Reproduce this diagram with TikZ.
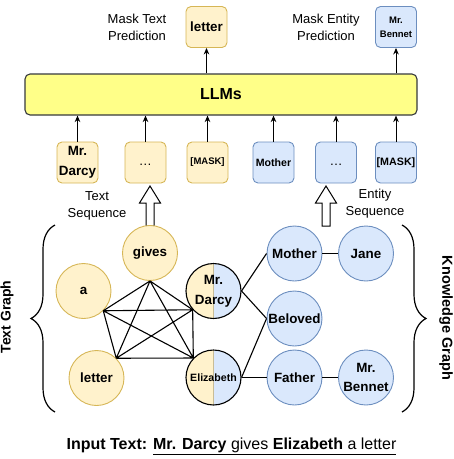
\documentclass[tikz,border=0pt]{standalone}
\usepackage{fontspec}
\setmainfont{Liberation Sans}
\usetikzlibrary{arrows.meta,decorations.pathreplacing}
\definecolor{yfill}{HTML}{FFF2CC}
\definecolor{ydraw}{HTML}{D6B656}
\definecolor{bfill}{HTML}{DAE8FC}
\definecolor{bdraw}{HTML}{6C8EBF}
\definecolor{llmfill}{HTML}{FFFF88}
\definecolor{llmdraw}{HTML}{36393D}
\definecolor{divcol}{HTML}{C8BC96}
\newcommand\myfs[2]{\fontsize{#1}{#2}\selectfont}
\newcommand\blockarr[2]{%
  \draw[line width=1pt, fill=white] (#1-4,#2) -- (#1-4,203) -- (#1-10.5,203) -- (#1,186) -- (#1+10.5,203) -- (#1+4,203) -- (#1+4,#2) -- cycle;}
\begin{document}
\begin{tikzpicture}[x=1pt,y=-1pt,
  ybox/.style={rectangle, rounded corners=5pt, fill=yfill, draw=ydraw, line width=0.9pt, minimum width=41pt, minimum height=41pt, inner sep=0pt, align=center},
  bbox/.style={ybox, fill=bfill, draw=bdraw},
  llmbox/.style={rectangle, rounded corners=5pt, fill=llmfill, draw=llmdraw, line width=1.1pt, minimum width=392pt, minimum height=41pt, inner sep=0pt},
  lab/.style={align=center, inner sep=0pt, font={\myfs{13}{17}}},
  ycirc/.style={circle, fill=yfill, draw=ydraw, line width=0.9pt, minimum size=55pt, inner sep=0pt, align=center, font={\myfs{13.4}{19}\bfseries}},
  bcirc/.style={ycirc, fill=bfill, draw=bdraw},
  halfcirc/.style={circle, draw=black, line width=1.1pt, minimum size=55pt, inner sep=0pt, align=center, font={\myfs{13.4}{20}\bfseries},
    path picture={
      \fill[yfill] (path picture bounding box.south west) rectangle (path picture bounding box.north);
      \fill[bfill] (path picture bounding box.south) rectangle (path picture bounding box.north east);
      \draw[divcol, line width=1.2pt] (path picture bounding box.south) -- (path picture bounding box.north);
    }},
  arr/.style={line width=1pt, -{Stealth[length=6.5pt,width=5.5pt]}},
  edge/.style={line width=1.1pt, black},
  bracestyle/.style={line width=1.2pt, decorate, decoration={brace, amplitude=24pt}},
]
\useasboundingbox (0,0) rectangle (454,459);

% LLM
\node[llmbox, font={\myfs{16}{19}\bfseries}] (llm) at (221,94.5) {LLMs};

% top outputs
\node[ybox, font={\myfs{13.4}{16}\bfseries}] (t1) at (206.5,27) {letter};
\node[bbox, font={\myfs{9.5}{14}\bfseries}] (t2) at (396,27) {Mr.\\Bennet};
\node[lab] (l1) at (137,27.5) {Mask Text\\Prediction};
\node[lab] (l2) at (326,27.5) {Mask Entity\\Prediction};
\draw[arr] (llm.north -| t1.south) -- (t1.south);
\draw[arr] (llm.north -| t2.south) -- (t2.south);

% sequences
\node[ybox, font={\myfs{13.4}{20}\bfseries}] (s1) at (77.5,162.5) {Mr.\\Darcy};
\node[ybox, font={\myfs{13}{16}}] (s2) at (145.5,162.5) {\vphantom{Ag}…};
\node[ybox, font={\myfs{9.5}{12}\bfseries}] (s3) at (207.5,162.5) {[MASK]};
\node[bbox, font={\myfs{10.6}{12}\bfseries}] (k1) at (273.5,162.5) {Mother};
\node[bbox, font={\myfs{13}{16}}] (k2) at (336,162.5) {\vphantom{Ag}…};
\node[bbox, font={\myfs{10.7}{12}\bfseries}] (k3) at (396,162.5) {[MASK]};
\foreach \n in {s1,s2,s3,k1,k2,k3}{
  \draw[arr] (\n.north) -- (\n.north |- llm.south);
}
\node[lab] (tsl) at (97,205.5) {Text\\Sequence};
\node[lab] (esl) at (375,203.5) {Entity\\Sequence};

% block arrows
\blockarr{150}{226}
\blockarr{326}{226}

% text graph
\node[ycirc] (gives) at (150,253) {gives};
\node[ycirc] (a) at (83.5,291) {a};
\node[ycirc] (letter) at (96.5,378) {letter};
\node[halfcirc] (darcy) at (213.5,291) {Mr.\\Darcy};
\node[halfcirc, font={\myfs{10.6}{12}\bfseries}] (eliz) at (213.5,377.5) {Elizabeth};

% knowledge graph
\node[bcirc] (mother) at (294.5,253.5) {Mother};
\node[bcirc] (jane) at (366,253.5) {Jane};
\node[bcirc] (beloved) at (294.5,318.5) {Beloved};
\node[bcirc] (father) at (294.5,377.5) {Father};
\node[bcirc] (bennet) at (366,377.5) {Mr.\\Bennet};

% text graph edges (complete graph)
\coordinate (pg) at (gives.south);
\coordinate (pa) at (a.-45);
\coordinate (pl) at (letter.45);
\coordinate (pd) at (darcy.222);
\coordinate (pe) at (eliz.136);
\draw[edge] (pg) -- (pa) (pg) -- (pl) (pg) -- (pd) (pg) -- (pe)
  (pa) -- (pl) (pa) -- (pd) (pa) -- (pe)
  (pl) -- (pd) (pl) -- (pe) (pd) -- (pe);

% knowledge edges
\draw[edge] (darcy.east) -- (mother.west);
\draw[edge] (darcy.east) -- (beloved.west);
\draw[edge] (eliz.east) -- (beloved.west);
\draw[edge] (eliz.east) -- (father.west);
\draw[edge] (mother) -- (jane);
\draw[edge] (father) -- (bennet);

% braces
\draw[bracestyle] (55,412) -- (55,225);
\draw[bracestyle] (402,225) -- (402,412);
\node[rotate=90, font={\myfs{14}{16}\bfseries}] (tg) at (7,317) {Text Graph};
\node[rotate=-90, font={\myfs{14.5}{16}\bfseries}] (kg) at (446,318) {Knowledge Graph};

% input text
\node[inner sep=0pt, font={\myfs{16}{19}}] (inp) at (231.5,446) {\textbf{Input Text:} \underline{\textbf{Mr. Darcy} gives \textbf{Elizabeth} a letter}};
\end{tikzpicture}
\end{document}
